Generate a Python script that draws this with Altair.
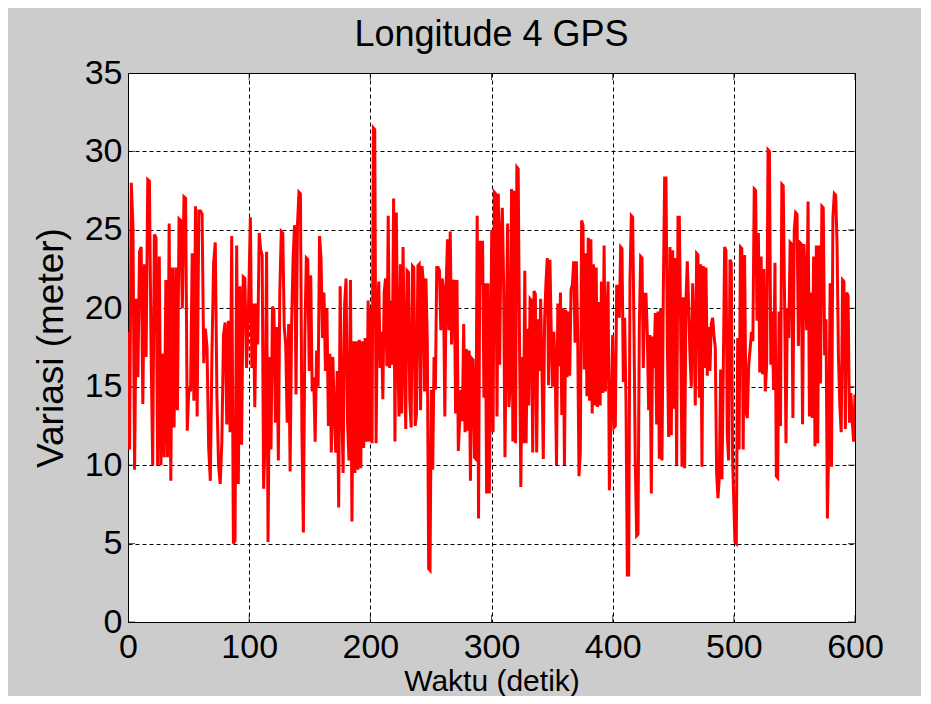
import altair as alt
import numpy as np
import pandas as pd

# ---- data (seconds, metres) ----
seg_a = [18.5, 11, 28, 25.2, 9.7, 20.6, 15.6, 23.6, 23.9, 13.9, 22.8, 16.9, 28.2, 28.1, 17.5, 10,
         24.7, 24.5, 10, 23.3, 10, 17.1, 10.5, 21.8, 10.5, 25.4, 9, 22.6, 12.4, 22.6, 13.5, 25.7,
         25.6, 20, 27.1, 27, 12.2, 15, 14.7, 23.5, 14.1, 26.5, 13.1, 26.2, 26.2, 26, 16.5, 18.7,
         17.5, 11.1, 9, 17.2, 22.9, 24.2, 14.4, 10, 8.8, 11.5, 18.3, 19.1, 12.6, 19.2, 12.1, 24.6,
         5, 5.2, 24, 8.8, 21.4, 11.3, 22, 21.9, 16.2, 19.2]
seg_b = [25.8, 16.2, 20.3, 13.7, 20.3, 17.7, 24.8, 23.7, 23.4, 8.5, 11.7, 23.6, 5.1, 16.9, 11.0,
         20.1, 19.9, 12.7, 18.8, 10.3, 21.1, 24.9, 24.8, 18.8, 17.7, 12.7, 19, 9.6, 18.9, 23.1,
         25.3, 14.5, 25.3, 27.4, 27.3, 12.3, 5.7, 18.1, 23.2, 23.1, 16, 22.1, 14.7, 15.6, 11.5,
         17.3, 15, 24.6, 23.2, 18.1, 21, 16, 20, 12.5, 17.1, 10.8, 16.9, 13.3, 10.8, 16, 7.3, 21.4,
         14.2, 9.5, 20.2, 21.9, 12.7, 10.3, 21.8, 6.4, 17.9, 9.5, 17.9, 9.7, 18, 9.8, 17.9, 11.1,
         18.1, 11.5, 20.5, 11.5]
seg_c = [20, 11.4, 31.5, 31.4, 11.4, 19.9, 21.7, 16.2, 18.5, 14.2, 21, 21.9, 16.3, 25.9, 16.2,
         20.5, 16.4, 27, 11.5, 26.1, 17.6, 13.1, 22.8, 13.3, 23.9, 17.3, 12.3, 22.4, 22.3, 14.1,
         12.4, 22.7, 22.6, 12.5, 13.3, 22.7, 22.8, 13.5, 22.7, 21.8, 14.7, 21.9, 17.8, 3.4, 3.3,
         14.8, 9.7, 16.9, 14.8, 22.6, 22.6, 22.4, 18.6, 21.9, 21.2, 13.1, 21.5, 24.4, 18.6, 24.9,
         17.7, 21.6, 21.8, 13.3, 21.8, 10.9, 12.8, 14.8, 12.8, 19, 12.1, 17.4, 12.2, 17.3, 9,
         16.8, 16.7, 10.5, 10.4, 25.9, 6.6, 24.3, 21.5, 24.3, 14.3, 21.6, 8.2, 21.6, 8.2]
seg_d = [25, 12.1, 27.4, 27.3, 13.1, 27.3, 16.4, 24.5, 26.4, 21.5, 10.5, 17.9, 25.4, 13.7, 15.3,
         27.6, 11.5, 27.5, 11.4, 29, 28.9, 18, 8.6, 16.9, 11.4, 22.4, 11.4, 18.7, 13.8, 20.6, 20.5,
         10.8, 21.1, 20.9, 10.8, 19.3, 16, 20.6, 16.1, 10.4, 19.3, 21.6, 23.2, 15.1, 23.1, 18.6,
         15, 18.5, 16.1, 10, 20.3, 16.3, 21, 13.2, 20, 10, 19.9, 15.6, 19.8, 15.7, 21.2, 21.5, 23,
         17.8, 23, 18.3, 9.3, 10.8, 25.6, 25.3, 16.1, 23.5, 14.4, 24.5, 14.1, 24.4, 13.3, 22.8,
         13.8, 22.6, 13.7, 20.4, 13.8, 21.7, 14.6, 24, 14.7, 19, 21.7, 8.4]
seg_e = [18.3, 12.4, 12.5, 21.4, 21.4, 19.4, 23.9, 23.8, 15.3, 19.4, 14.1, 3, 3, 21.8, 25.9, 25.8,
         18.6, 10, 5.5, 5.6, 18.8, 23.3, 23.2, 16.2, 20.9, 20.9, 18.3, 13.5, 18.3, 8.2, 18.2, 16.2,
         19.7, 12.6, 19.8, 10.4, 20, 10.3, 21, 28.3, 28.3, 17.9, 11.8, 23.9, 11.9, 23.7, 13.6, 23.2,
         10, 25.8, 25.8, 18.9, 9.9, 20.7, 9.8, 20.5, 23, 20.2, 17, 15, 21.6, 18.8, 13.8, 23.5, 23.4,
         14.3, 22.8, 9.9, 22.7, 16.2, 22.6, 15.7, 18.8, 16, 19, 19.4, 18.3, 17.5, 9.5, 7.9, 9.2,
         16.1, 9.1, 16, 23.9, 23.7, 11.9, 10.3, 23.1, 22.9, 10.3]
seg_f = [5.1, 5, 18.1, 11, 23.9, 23.8, 11, 23.4, 13.4, 13, 16.4, 17.4, 18.5, 17.9, 27.6, 27.5, 19.2,
         24.8, 15.9, 23.3, 15.8, 22.5, 14.7, 16.4, 30.1, 30, 16.4, 19.8, 14.8, 22.9, 9.3, 9.2, 19.8,
         12.5, 27.9, 27.8, 20.3, 11.4, 20, 18.1, 24.2, 24.1, 13, 25, 26.1, 26, 17.6, 24.2, 24.1,
         12.6, 24.1, 21.8, 18.6, 26.8, 13.1, 21, 13, 23.3, 11.2, 24, 11.4, 24, 15.2, 26.5, 26.4,
         17, 19.3, 6.6, 11.5, 21.6, 9.9, 25.8, 27.3, 27.2, 24.1, 16.9, 13.8, 12.1, 21.8, 21.7,
         12.3, 21, 20.8, 12.7, 14.6, 12.8, 11.5, 14.5]

# (start second, end second, values) for each 100 s stretch
segments = [(0.0, 99.2, seg_a), (101.0, 199.4, seg_b), (200.3, 298.2, seg_c),
            (300.2, 397.3, seg_d), (400.0, 499.0, seg_e), (500.9, 600.0, seg_f)]

x_ticks = [0, 100, 200, 300, 400, 500, 600]
y_ticks = [0, 5, 10, 15, 20, 25, 30, 35]

t_all, v_all = [], []
for s, e, vals in segments:
    t_all.extend(np.linspace(s, e, len(vals)).tolist())
    v_all.extend(vals)
df = pd.DataFrame({"t": t_all, "v": v_all})

FONT = "Liberation Sans"

xscale = alt.Scale(domain=[0, 600], nice=False, zero=False)
yscale = alt.Scale(domain=[0, 35], nice=False, zero=False)

xaxis = alt.Axis(values=x_ticks, title="Waktu (detik)", labelPadding=8, titlePadding=2,
                 titleFontSize=30, format="d", labelFlush=False)
yaxis = alt.Axis(values=y_ticks, title="Variasi (meter)", labelPadding=6, titlePadding=14,
                 format="d", labelFlush=False)

line = alt.Chart(df).mark_line(color="#ff0000", strokeWidth=3, clip=True).encode(
    x=alt.X("t:Q", scale=xscale, axis=xaxis),
    y=alt.Y("v:Q", scale=yscale, axis=yaxis),
)

xt = pd.DataFrame({"t": x_ticks * 2, "v": [0] * len(x_ticks) + [35] * len(x_ticks)})
yt = pd.DataFrame({"t": [0] * len(y_ticks) + [600] * len(y_ticks), "v": y_ticks * 2})

ticks_x = alt.Chart(xt).mark_tick(orient="vertical", size=14, thickness=1, color="black",
                                  clip=True).encode(
    x=alt.X("t:Q", scale=xscale), y=alt.Y("v:Q", scale=yscale))
ticks_y = alt.Chart(yt).mark_tick(orient="horizontal", size=14, thickness=1, color="black",
                                  clip=True).encode(
    x=alt.X("t:Q", scale=xscale), y=alt.Y("v:Q", scale=yscale))

chart = alt.layer(ticks_x, ticks_y, line).properties(
    width=727,
    height=549,
    title=alt.Title("Longitude 4 GPS", font=FONT, fontSize=36, fontWeight="normal",
                    color="black", offset=2),
    padding={"left": 120, "top": 65, "right": 66, "bottom": 74},
    autosize=alt.AutoSizeParams(type="none"),
    background="#cccccc",
).configure_view(
    stroke="black", strokeWidth=1, fill="white"
).configure_axis(
    labelFont=FONT, labelFontSize=34, labelColor="black",
    titleFont=FONT, titleFontSize=37, titleFontWeight="normal", titleColor="black",
    domain=False, ticks=False,
    grid=True, gridColor="black", gridDash=[4, 3], gridWidth=1, gridOpacity=1,
).configure_axisY(labelBaseline="middle")

chart.save("out.html", embed_options={"renderer": "svg", "actions": False})
